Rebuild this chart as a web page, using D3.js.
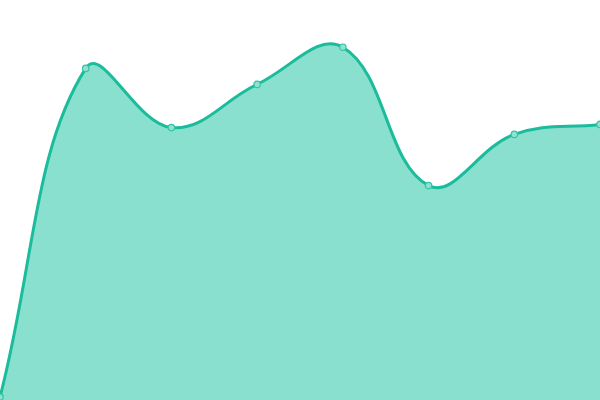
<!DOCTYPE html>
<html><head><meta charset="utf-8">
<script src="https://cdn.jsdelivr.net/npm/d3@7/dist/d3.min.js"></script>
<style>html,body{margin:0;padding:0;background:#fff;}svg{display:block;}</style>
</head><body>
<svg id="chart" width="600" height="400"></svg>
<script>
const categories = ["A","B","C","D","E","F","G","H"];
const values = [0.75, 82.9, 68.1, 78.9, 88.2, 53.6, 66.4, 68.9];
const yDomain = [0, 100];

const W = 600, H = 400;
const svg = d3.select("#chart");
const x = d3.scalePoint().domain(categories).range([0, W]);
const y = d3.scaleLinear().domain(yDomain).range([H, 0]);

const pts = categories.map((c, i) => ({x: x(c), y: y(values[i])}));

// Chart.js-style spline (tension 0.4)
const t = 0.4;
const cps = pts.map((p, i) => {
  const prev = pts[i - 1] || p, next = pts[i + 1] || p;
  const d01 = Math.hypot(p.x - prev.x, p.y - prev.y);
  const d12 = Math.hypot(next.x - p.x, next.y - p.y);
  let s01 = d01 / (d01 + d12), s12 = d12 / (d01 + d12);
  s01 = isNaN(s01) ? 0 : s01; s12 = isNaN(s12) ? 0 : s12;
  const fa = t * s01, fb = t * s12;
  const cl = (v, lo, hi) => Math.max(lo, Math.min(hi, v));
  return {
    px: cl(p.x - fa * (next.x - prev.x), 0, W), py: cl(p.y - fa * (next.y - prev.y), 0, H),
    nx: cl(p.x + fb * (next.x - prev.x), 0, W), ny: cl(p.y + fb * (next.y - prev.y), 0, H)
  };
});

function linePath(ctx) {
  ctx.moveTo(pts[0].x, pts[0].y);
  for (let i = 1; i < pts.length; i++) {
    ctx.bezierCurveTo(cps[i-1].nx, cps[i-1].ny, cps[i].px, cps[i].py, pts[i].x, pts[i].y);
  }
  return ctx;
}

const area = linePath(d3.path());
area.lineTo(pts[pts.length-1].x, y(yDomain[0]));
area.lineTo(pts[0].x, y(yDomain[0]));
area.closePath();

svg.append("path").attr("d", area.toString())
  .attr("fill", "#89e0cf").attr("stroke", "none");

svg.append("path").attr("d", linePath(d3.path()).toString())
  .attr("fill", "none").attr("stroke", "#1abc9c").attr("stroke-width", 3)
  .attr("stroke-linejoin", "round");

svg.selectAll("circle.pt").data(pts).join("circle").attr("class", "pt")
  .attr("cx", d => d.x).attr("cy", d => d.y).attr("r", 3.2)
  .attr("fill", "#8de2d1").attr("stroke", "#34c2a6").attr("stroke-width", 1.2);
</script>
</body></html>
